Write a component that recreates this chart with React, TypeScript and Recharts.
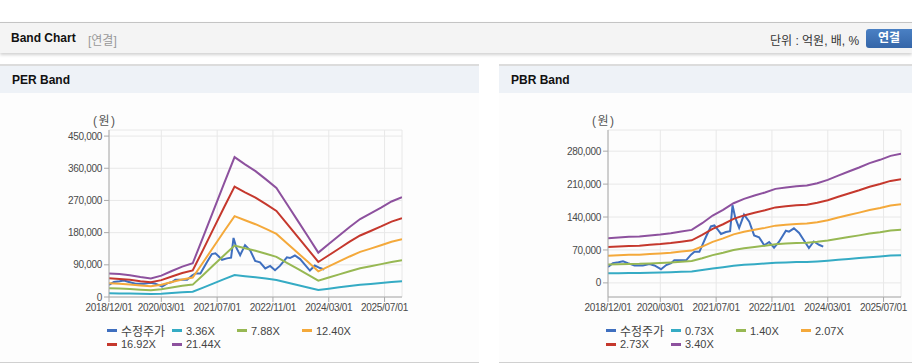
import React from 'react';
import { LineChart, Line, XAxis, YAxis, CartesianGrid } from 'recharts';

// x = months since 2018/12/01
const months = [0, 3, 6, 9, 12, 15, 18, 21, 24, 27, 30, 33, 36, 39, 42, 45, 48, 51, 54, 57, 60, 63, 66, 69, 72, 75, 78, 81, 84];
const dateTicks = [0, 15, 31, 47, 63, 79];
const dateLabels = ['2018/12/01', '2020/03/01', '2021/07/01', '2022/11/01', '2024/03/01', '2025/07/01'];

const priceMonths = [0, 1.4, 3, 4.3, 5.7, 7.6, 10, 11.9, 13.3, 14.8, 15.2, 16.7, 18.1, 19, 22.4, 23.8, 24.8, 26.2, 28.1, 29.5, 30.5, 31.4, 32.4, 33.8, 35, 35.7, 36.5, 37.6, 39, 40.5, 41.9, 43.3, 44.8, 46.2, 47.6, 49, 51, 51.9, 53.3, 54.8, 56.2, 57.6, 59, 60.5, 61.7];
const priceValues = [34000, 42000, 44000, 46000, 42000, 37000, 37000, 40000, 37000, 31000, 29000, 38000, 42000, 48000, 48000, 60000, 66000, 66000, 98000, 120000, 122000, 114000, 104000, 108000, 110000, 165000, 138000, 117000, 145000, 130000, 101000, 97000, 80000, 87000, 75000, 87000, 111000, 109000, 116000, 106000, 90000, 74000, 88000, 81000, 77000];

// EPS, bands = EPS x multiple
const perEps = [3080, 2985, 2845, 2612, 2425, 2785, 3390, 3960, 4395, 7835, 11335, 14830, 18240, 17300, 16420, 15345, 14225, 12125, 10030, 7930, 5785, 6900, 8020, 9140, 10170, 10915, 11660, 12455, 13010];
const perMultiples = [3.36, 7.88, 12.4, 16.92, 21.44];
const perTicks = [0, 90000, 180000, 270000, 360000, 450000];

// BPS
const pbrBps = [27940, 28350, 28770, 28970, 29620, 30240, 31060, 32120, 33150, 37320, 42120, 45680, 49820, 52530, 54620, 56500, 58790, 59620, 60470, 60880, 62350, 64410, 67060, 69650, 72150, 74850, 76940, 79410, 80680];
const pbrMultiples = [0.73, 1.4, 2.07, 2.73, 3.4];
const pbrTicks = [0, 70000, 140000, 210000, 280000];

const PRICE_COLOR = '#3f6fbf';
const BAND_COLORS = ['#35abc4', '#97b853', '#f4a93b', '#c5382d', '#8d519e'];
const FONT = "'Liberation Sans', Arial, 'Noto Sans CJK KR', sans-serif";

const buildRows = (base: number[], multiples: number[]) => {
  const rows = new Map<number, any>();
  months.forEach((m, i) => {
    const row: any = { m };
    multiples.forEach((k, j) => {
      row['b' + j] = Math.round(base[i] * k);
    });
    rows.set(m, row);
  });
  priceMonths.forEach((m, i) => {
    const row = rows.get(m) || { m };
    row.price = priceValues[i];
    rows.set(m, row);
  });
  return Array.from(rows.values()).sort((a, b) => a.m - b.m);
};

const fmt = (v: number) => v.toLocaleString('en-US');

interface PanelProps {
  left: number;
  width: number;
  title: string;
  base: number[];
  multiples: number[];
  yDomain: [number, number];
  yTicks: number[];
}

const BandPanel = ({ left, width, title, base, multiples, yDomain, yTicks }: PanelProps) => {
  const rows = buildRows(base, multiples);
  const legend = [{ name: '수정주가', color: PRICE_COLOR }].concat(
    multiples.map((k, j) => ({ name: k.toFixed(2) + 'X', color: BAND_COLORS[j] }))
  );
  const tickStyle = { fontSize: 10, fill: '#4a4a4a', fontFamily: FONT, letterSpacing: -0.3 };

  return (
    <div style={{ position: 'absolute', left, top: 64, width, height: 299, background: '#fdfdfd', borderTop: '2px solid #dcdcdc', borderBottom: '1px solid #d0d0d0', boxSizing: 'border-box' }}>
      <div style={{ height: 27, background: '#eef2f7', paddingLeft: 12, lineHeight: '29px', fontSize: 12, fontWeight: 'bold', color: '#111', fontFamily: FONT }}>
        {title}
      </div>
      <div style={{ position: 'absolute', left: 93, top: 45, fontSize: 12, color: '#555', fontFamily: FONT, letterSpacing: 1.5 }}>(원)</div>
      <div style={{ position: 'absolute', left: 0, top: 36 }}>
        <LineChart width={413} height={220} data={rows} margin={{ top: 28, right: 11, bottom: 1, left: 49 }}>
          <CartesianGrid stroke="#e8e8e8" />
          <XAxis
            dataKey="m"
            type="number"
            domain={[0, 84]}
            ticks={dateTicks}
            tickFormatter={(v: number) => dateLabels[dateTicks.indexOf(v)]}
            tick={tickStyle}
            tickSize={5}
            height={24}
            stroke="#aaa"
            interval={0}
            allowDataOverflow
          />
          <XAxis xAxisId="top" orientation="top" type="number" domain={[0, 84]} tick={false} tickLine={false} height={0} stroke="#c8c8c8" />
          <YAxis
            type="number"
            domain={yDomain}
            ticks={yTicks}
            tickFormatter={fmt}
            tick={tickStyle}
            tickSize={5}
            width={60}
            stroke="#aaa"
            interval={0}
            allowDataOverflow
          />
          <YAxis yAxisId="right" orientation="right" domain={yDomain} tick={false} tickLine={false} width={0} stroke="#c8c8c8" />
          <Line dataKey="price" stroke={PRICE_COLOR} strokeWidth={2} dot={false} connectNulls isAnimationActive={false} />
          {multiples.map((k, j) => (
            <Line key={j} dataKey={'b' + j} stroke={BAND_COLORS[j]} strokeWidth={2} dot={false} connectNulls isAnimationActive={false} />
          ))}
        </LineChart>
      </div>
      <div style={{ position: 'absolute', left: 107, top: 258, width: 260, display: 'flex', flexWrap: 'wrap', fontFamily: FONT, fontSize: 11, color: '#444' }}>
        {legend.map((item) => (
          <div key={item.name} style={{ width: 65, height: 13.5, display: 'flex', alignItems: 'center' }}>
            <span style={{ display: 'inline-block', width: 10, height: 3, background: item.color, marginRight: 4 }} />
            <span style={{ fontSize: item.name === '수정주가' ? 12 : 11 }}>{item.name}</span>
          </div>
        ))}
      </div>
    </div>
  );
};

const App = () => (
  <div style={{ position: 'absolute', left: 0, top: 0, width: 912, height: 364, background: '#fff', overflow: 'hidden', fontFamily: FONT }}>
    <div style={{ position: 'absolute', left: 0, top: 22, width: 912, height: 30, background: '#f4f4f4', borderTop: '1px solid #c4c4c4', boxShadow: '0 2px 3px rgba(0,0,0,0.18)' }}>
      <span style={{ position: 'absolute', left: 11, top: 8, fontSize: 12, fontWeight: 'bold', color: '#111' }}>Band Chart</span>
      <span style={{ position: 'absolute', left: 88, top: 8, fontSize: 12, color: '#999' }}>[연결]</span>
      <span style={{ position: 'absolute', left: 770, top: 8, fontSize: 12, color: '#333' }}>단위 : 억원, 배, %</span>
      <div style={{ position: 'absolute', left: 866, top: 6, width: 52, height: 19, borderRadius: 3, background: 'linear-gradient(#4a80c4, #3566a8)', color: '#fff', fontSize: 12, fontWeight: 'bold', lineHeight: '19px', paddingLeft: 12, boxSizing: 'border-box' }}>
        연결
      </div>
    </div>
    <BandPanel left={0} width={479} title="PER Band" base={perEps} multiples={perMultiples} yDomain={[0, 467000]} yTicks={perTicks} />
    <BandPanel left={499} width={413} title="PBR Band" base={pbrBps} multiples={pbrMultiples} yDomain={[-30000, 325000]} yTicks={pbrTicks} />
  </div>
);

export default App;
